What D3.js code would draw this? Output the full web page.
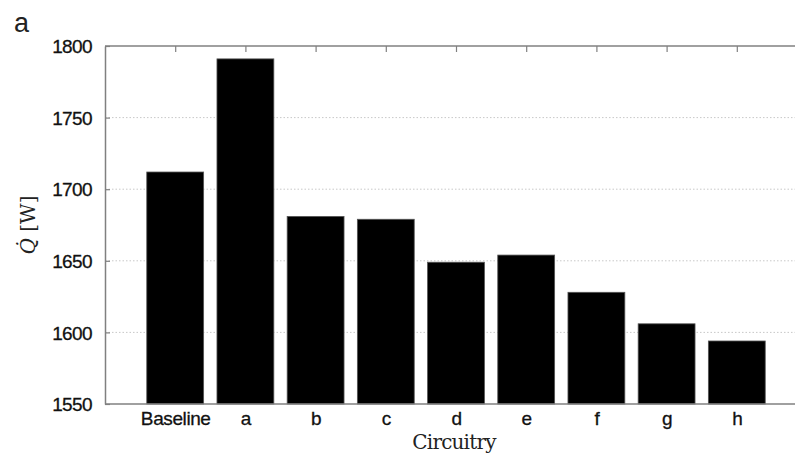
<!DOCTYPE html>
<html>
<head>
<meta charset="utf-8">
<script src="https://cdn.jsdelivr.net/npm/d3@7"></script>
<style>
  body { margin: 0; background: #fff; }
  svg { display: block; }
</style>
</head>
<body>
<div id="chart"></div>
<script>
'use strict';

// chart data
var categories = ["Baseline", "a", "b", "c", "d", "e", "f", "g", "h"];
var heatRate = [1712, 1791, 1681, 1679, 1649, 1654, 1628, 1606, 1594];
var yTicks = [1550, 1600, 1650, 1700, 1750, 1800];

(function() {
    var width = 795, height = 457;
    var margin = { left: 105, top: 46, bottom: 53 };

    var svg = d3.select("#chart").append("svg")
        .attr("width", width)
        .attr("height", height);

    // x runs 0..10 with a category at each integer 1..9 (right edge is cropped off)
    var x = d3.scaleLinear()
        .domain([0, categories.length + 1])
        .range([margin.left, margin.left + 70.2 * (categories.length + 1)]);

    var y = d3.scaleLinear()
        .domain([1550, 1800])
        .range([height - margin.bottom, margin.top]);

    var barW = 0.81;
    var axisColor = "#808080";

    // dotted grid
    svg.append("g").selectAll("line")
        .data(yTicks.slice(1, -1))
        .enter().append("line")
        .attr("x1", x(0)).attr("x2", width)
        .attr("y1", d => y(d)).attr("y2", d => y(d))
        .attr("stroke", "#c8c8c8")
        .attr("stroke-width", 1)
        .attr("stroke-dasharray", "1.5,2");

    // bars
    svg.append("g").selectAll("rect")
        .data(heatRate)
        .enter().append("rect")
        .attr("x", (d, i) => x(i + 1 - barW / 2))
        .attr("width", x(barW) - x(0))
        .attr("y", d => y(d))
        .attr("height", d => y(1550) - y(d))
        .attr("fill", "#000")
        .attr("stroke", "#555")
        .attr("stroke-width", 0.8);

    // left axis, inward ticks
    var yAxis = d3.axisLeft(y).tickValues(yTicks).tickFormat(d3.format("d"))
        .tickSizeInner(-5).tickSizeOuter(0).tickPadding(13);
    var gy = svg.append("g")
        .attr("transform", "translate(" + x(0) + ",0)")
        .call(yAxis);
    gy.select(".domain").attr("stroke", axisColor).attr("stroke-width", 1.5);
    gy.selectAll(".tick line").attr("stroke", axisColor).attr("stroke-width", 1.2);
    gy.selectAll(".tick text")
        .attr("font-family", "'Liberation Sans', Arial, sans-serif")
        .attr("font-size", 19)
        .attr("letter-spacing", "-0.6")
        .attr("fill", "#111")
        .attr("stroke", "#111")
        .attr("stroke-width", 0.3)
        .attr("dy", "0.35em");

    // bottom axis
    var xAxis = d3.axisBottom(x).tickValues(d3.range(1, categories.length + 1))
        .tickFormat(d => categories[d - 1]).tickSize(0).tickPadding(8);
    var gx = svg.append("g")
        .attr("transform", "translate(0," + y(1550) + ")")
        .call(xAxis);
    gx.select(".domain").attr("stroke", axisColor).attr("stroke-width", 1.5)
        .attr("d", "M" + x(0) + ",0H" + width);
    gx.selectAll(".tick text")
        .attr("font-family", "'Liberation Sans', Arial, sans-serif")
        .attr("font-size", 19)
        .attr("letter-spacing", "-0.4")
        .attr("fill", "#111")
        .attr("stroke", "#111")
        .attr("stroke-width", 0.3);

    // top border with inward ticks at categories
    var xTop = d3.axisTop(x).tickValues(d3.range(1, categories.length + 1))
        .tickSizeInner(-6).tickSizeOuter(0).tickFormat("");
    var gt = svg.append("g")
        .attr("transform", "translate(0," + y(1800) + ")")
        .call(xTop);
    gt.select(".domain").attr("stroke", axisColor).attr("stroke-width", 1.5)
        .attr("d", "M" + x(0) + ",0H" + width);
    gt.selectAll(".tick line").attr("stroke", axisColor).attr("stroke-width", 1.2);

    // axis titles
    svg.append("text")
        .attr("x", 454)
        .attr("y", 449)
        .attr("text-anchor", "middle")
        .attr("font-family", "'DejaVu Serif', serif")
        .attr("font-size", 20)
        .attr("letter-spacing", "-0.8")
        .attr("fill", "#222")
        .text("Circuitry");

    var yl = svg.append("text")
        .attr("transform", "translate(35," + ((y(1550) + y(1800)) / 2) + ") rotate(-90)")
        .attr("text-anchor", "middle")
        .attr("font-family", "'DejaVu Serif', serif")
        .attr("font-size", 20)
        .attr("fill", "#222");
    yl.append("tspan").attr("font-style", "italic").text("Q\u0307");
    yl.append("tspan").text(" [W]");

    // panel letter
    svg.append("text")
        .attr("x", 14).attr("y", 32)
        .attr("font-family", "'Liberation Sans', Arial, sans-serif")
        .attr("font-size", 27)
        .attr("fill", "#222")
        .text("a");
})();
</script>
</body>
</html>
